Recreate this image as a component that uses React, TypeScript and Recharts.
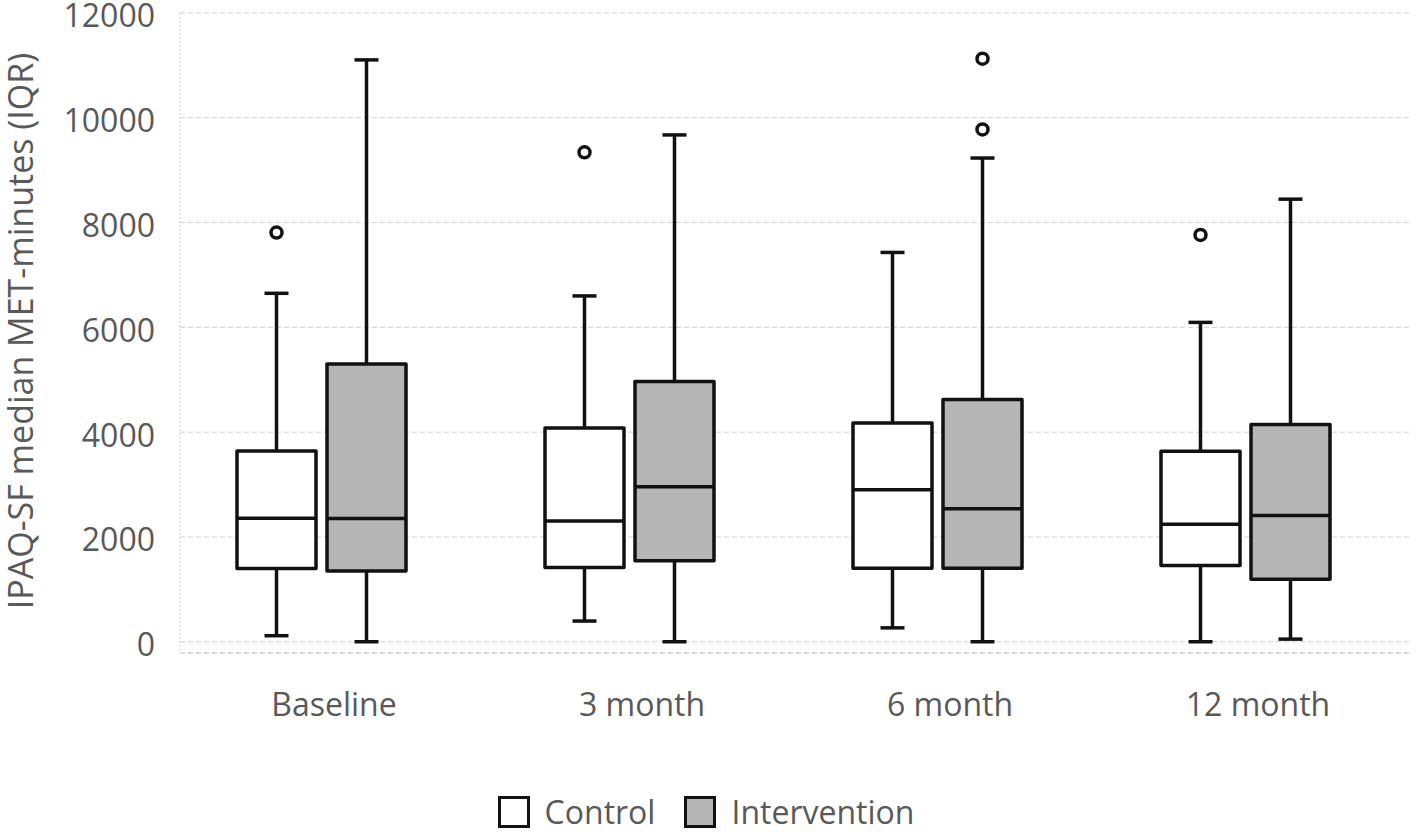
import React from 'react';
import { ComposedChart, Bar, XAxis, YAxis, CartesianGrid, Legend } from 'recharts';

const categories = ['Baseline', '3 month', '6 month', '12 month'];

const controlMin = [115, 395, 265, 0];
const controlQ1 = [1400, 1415, 1402, 1454];
const controlMedian = [2355, 2303, 2903, 2244];
const controlQ3 = [3640, 4080, 4177, 3634];
const controlMax = [6650, 6600, 7430, 6095];
const controlOutliers = [[7810], [9340], [], [7765]];

const interventionMin = [0, 0, 0, 50];
const interventionQ1 = [1350, 1546, 1402, 1192];
const interventionMedian = [2350, 2960, 2540, 2410];
const interventionQ3 = [5300, 4968, 4624, 4144];
const interventionMax = [11105, 9673, 9232, 8447];
const interventionOutliers = [[], [], [11127, 9778], []];

const yTicks = [0, 2000, 4000, 6000, 8000, 10000, 12000];
const yDomain = [-215, 12000];

const seriesNames = ['Control', 'Intervention'];
const seriesFills = ['#ffffff', '#b5b5b5'];

const data = categories.map((name, k) => ({
  name,
  c: {
    min: controlMin[k],
    q1: controlQ1[k],
    median: controlMedian[k],
    q3: controlQ3[k],
    max: controlMax[k],
    outliers: controlOutliers[k],
  },
  i: {
    min: interventionMin[k],
    q1: interventionQ1[k],
    median: interventionMedian[k],
    q3: interventionQ3[k],
    max: interventionMax[k],
    outliers: interventionOutliers[k],
  },
}));

const TEXT = '#595959';
const FONT = "'Open Sans', sans-serif";
const BOX_SHIFT = -13;
const CAP_HALF = 12;
const SW = 3.5;

const makeBoxShape = (key: 'c' | 'i', fill: string) => (props: any) => {
  const { x, y, width, height, payload } = props;
  const s = payload[key];
  const top = Math.min(y, y + height);
  const bottom = Math.max(y, y + height);
  const toPx = (v: number) => bottom - ((v - s.min) / (s.max - s.min)) * (bottom - top);
  const cx = x + width / 2 + BOX_SHIFT;
  const left = cx - width / 2;
  const yMax = toPx(s.max);
  const yMin = toPx(s.min);
  const yQ1 = toPx(s.q1);
  const yQ3 = toPx(s.q3);
  const yMed = toPx(s.median);
  return (
    <g>
      <line x1={cx} x2={cx} y1={yMax} y2={yQ3} stroke="#111" strokeWidth={SW} />
      <line x1={cx} x2={cx} y1={yQ1} y2={yMin} stroke="#111" strokeWidth={SW} />
      <line x1={cx - CAP_HALF} x2={cx + CAP_HALF} y1={yMax} y2={yMax} stroke="#111" strokeWidth={SW} />
      <line x1={cx - CAP_HALF} x2={cx + CAP_HALF} y1={yMin} y2={yMin} stroke="#111" strokeWidth={SW} />
      <rect x={left} y={yQ3} width={width} height={yQ1 - yQ3} fill={fill} stroke="#111" strokeWidth={SW} strokeLinejoin="round" />
      <line x1={left} x2={left + width} y1={yMed} y2={yMed} stroke="#111" strokeWidth={SW} />
      {s.outliers.map((o: number, j: number) => (
        <circle key={j} cx={cx} cy={toPx(o)} r={5.5} fill="#fff" stroke="#111" strokeWidth={SW} />
      ))}
    </g>
  );
};

const renderLegend = () => (
  <div
    style={{
      height: 62,
      boxSizing: 'border-box',
      paddingTop: 23,
      display: 'flex',
      justifyContent: 'center',
      alignItems: 'flex-start',
      fontFamily: FONT,
      fontSize: 32,
      color: TEXT,
    }}
  >
    {seriesNames.map((n, k) => (
      <div key={n} style={{ display: 'flex', alignItems: 'center', marginLeft: k === 0 ? 0 : 29, height: 32 }}>
        <div
          style={{
            width: 26,
            height: 26,
            border: '3px solid #111',
            background: seriesFills[k],
            marginRight: 15,
          }}
        />
        <span style={{ lineHeight: '32px' }}>{n}</span>
      </div>
    ))}
  </div>
);

const renderYTitle = (props: any) => {
  const vb = props.viewBox || {};
  const cy = (vb.y ?? 13) + (vb.height ?? 640) / 2 - 2;
  const x = 33;
  return (
    <text
      x={x}
      y={cy}
      transform={`rotate(-90, ${x}, ${cy})`}
      textAnchor="middle"
      fill={TEXT}
      fontSize={34}
      fontFamily={FONT}
    >
      IPAQ-SF median MET-minutes (IQR)
    </text>
  );
};

export default function App() {
  return (
    <div style={{ position: 'absolute', left: 0, top: 0, background: '#fff' }}>
      <ComposedChart
        width={1416}
        height={835}
        data={data}
        margin={{ top: 13, right: 4, left: 0, bottom: 0 }}
        barSize={79}
        barGap={11}
      >
        <CartesianGrid horizontal vertical={false} stroke="#cfcfcf" strokeDasharray="5 3" />
        <XAxis
          dataKey="name"
          height={120}
          tickSize={0}
          tickMargin={40}
          tickLine={false}
          axisLine={{ stroke: '#cfcfcf', strokeDasharray: '5 3' }}
          tick={{ fill: TEXT, fontSize: 32, fontFamily: FONT }}
        />
        <YAxis
          type="number"
          width={180}
          domain={yDomain}
          ticks={yTicks}
          interval={0}
          tickSize={0}
          tickMargin={25}
          tickLine={false}
          axisLine={{ stroke: '#cfcfcf', strokeDasharray: '2 2' }}
          tick={{ fill: TEXT, fontSize: 32, fontFamily: FONT, dy: 3 }}
          label={{ content: renderYTitle }}
        />
        <Legend verticalAlign="bottom" align="center" content={renderLegend} />
        <Bar
          name={seriesNames[0]}
          dataKey={(d: any) => [d.c.min, d.c.max]}
          fill={seriesFills[0]}
          shape={makeBoxShape('c', seriesFills[0])}
          isAnimationActive={false}
        />
        <Bar
          name={seriesNames[1]}
          dataKey={(d: any) => [d.i.min, d.i.max]}
          fill={seriesFills[1]}
          shape={makeBoxShape('i', seriesFills[1])}
          isAnimationActive={false}
        />
      </ComposedChart>
    </div>
  );
}
